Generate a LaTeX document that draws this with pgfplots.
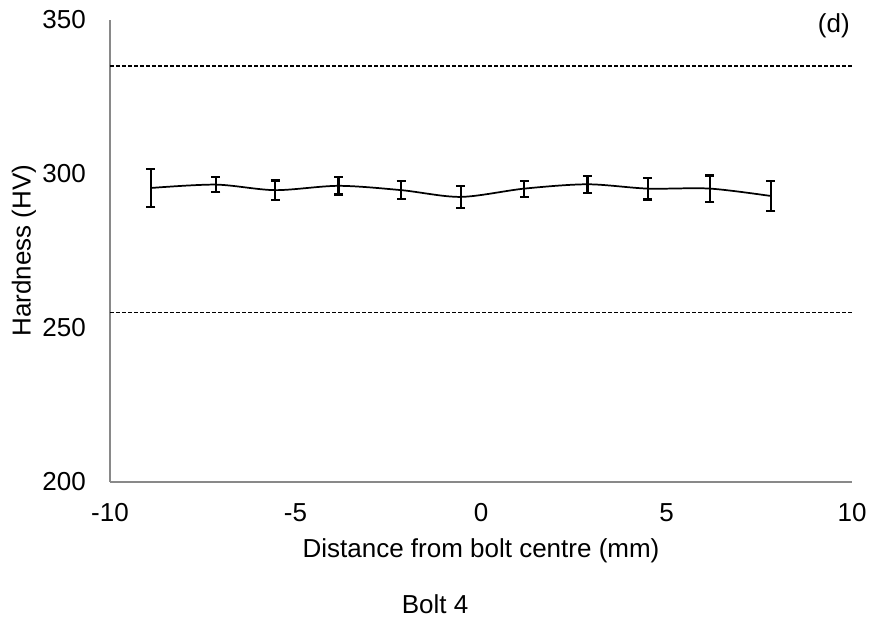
\documentclass[border=0pt]{standalone}
\usepackage{pgfplots}
\pgfplotsset{compat=1.18}
\usepackage{fontspec}
\setmainfont{Liberation Sans}
\definecolor{axgray}{HTML}{898989}
\begin{document}
\fontsize{19.5}{23}\selectfont
\begin{tikzpicture}
\useasboundingbox (-82.5pt,-106.875pt) rectangle (577.5pt,361.125pt);
\begin{axis}[
  at={(0pt,0pt)}, anchor=south west,
  scale only axis, width=556.5pt, height=346.125pt,
  xmin=-10, xmax=10, ymin=200, ymax=350,
  xtick={-10,-5,0,5,10}, ytick={200,250,300,350},
  axis x line*=bottom, axis y line*=left,
  axis line style={-, draw=axgray, line width=1.5pt},
  major tick length=0pt,
  /pgf/number format/assume math mode=true,
  tick label style={font=\fontsize{19.5}{23}\selectfont, text=black},
  xticklabel style={yshift=-9.6pt},
  yticklabel style={xshift=-11.5pt},
  label style={font=\fontsize{19.5}{23}\selectfont},
  xlabel={Distance from bolt centre (mm)},
  ylabel={Hardness (HV)},
  xlabel style={at={(axis description cs:0.5,0)}, anchor=center, yshift=-51.75pt},
  ylabel style={at={(axis description cs:0,0.5)}, anchor=center, yshift=64.5pt},
  clip=false,
]
\addplot[black, line width=1.1pt, dash pattern=on 3pt off 1.5pt] coordinates {(-10,335) (10,335)};
\addplot[black, line width=1.1pt, dash pattern=on 3pt off 1.5pt] coordinates {(-10,255) (10,255)};
\addplot[black, line width=1.3pt, smooth, tension=0.5, mark=none,
  error bars/.cd, y dir=both, y explicit,
  error bar style={line width=1.6pt, black},
  error mark options={rotate=90, mark size=3.4pt, line width=1.6pt, black}]
  table[x=x, y=y, y error=e] {
x y e
-8.90 295.4 6.25
-7.15 296.5 2.35
-5.55 294.7 3.15
-3.84 296.1 2.8
-2.15 294.7 3.0
-0.55 292.5 3.6
1.17 295.2 2.6
2.87 296.6 2.7
4.49 295.2 3.55
6.17 295.2 4.25
7.81 292.8 4.95
};
\node[anchor=center] at (axis cs:9.51,348) {(d)};
\node[anchor=center, xshift=243.75pt, yshift=-91.9pt] at (axis description cs:0,0) {Bolt 4};
\end{axis}
\end{tikzpicture}
\end{document}
